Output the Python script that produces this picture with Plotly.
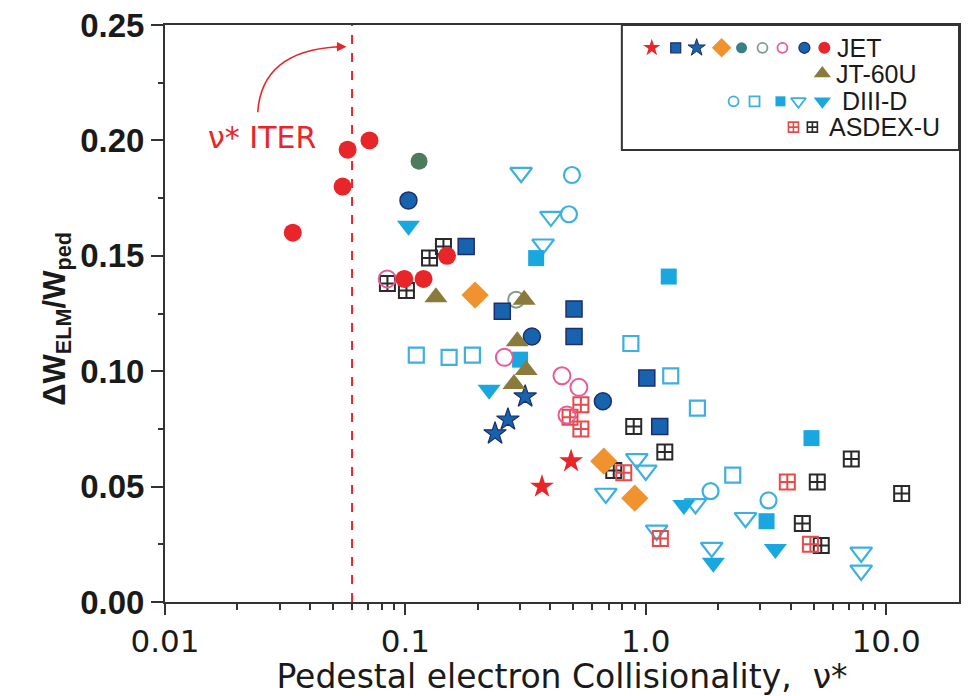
import plotly.graph_objects as go

# ---------------- data ----------------
jet_circle_x = [0.034, 0.0548, 0.0575, 0.0709, 0.099, 0.119, 0.149]
jet_circle_y = [0.160, 0.180, 0.196, 0.200, 0.140, 0.140, 0.150]

jet_redstar_x = [0.370, 0.489]
jet_redstar_y = [0.050, 0.061]

jet_navystar_x = [0.236, 0.267, 0.315]
jet_navystar_y = [0.073, 0.079, 0.089]

jet_navysq_x = [0.179, 0.253, 0.503, 0.503, 1.01, 1.143]
jet_navysq_y = [0.154, 0.126, 0.127, 0.115, 0.097, 0.076]

jet_diamond_x = [0.195, 0.669, 0.900]
jet_diamond_y = [0.133, 0.061, 0.045]

jet_teal_x = [0.114]
jet_teal_y = [0.191]

jet_grayopen_x = [0.289]
jet_grayopen_y = [0.131]

jet_pinkopen_x = [0.084, 0.258, 0.448, 0.527, 0.470]
jet_pinkopen_y = [0.140, 0.106, 0.098, 0.093, 0.081]

jet_navycirc_x = [0.103, 0.336, 0.663]
jet_navycirc_y = [0.174, 0.115, 0.087]

jt60_x = [0.134, 0.312, 0.292, 0.318, 0.283]
jt60_y = [0.132, 0.131, 0.113, 0.1005, 0.0945]

d3_opencirc_x = [0.493, 0.479, 1.86, 3.24]
d3_opencirc_y = [0.185, 0.168, 0.048, 0.044]

d3_opensq_x = [0.111, 0.152, 0.190, 0.867, 1.27, 1.64, 2.30]
d3_opensq_y = [0.107, 0.106, 0.107, 0.112, 0.098, 0.084, 0.055]

d3_fillsq_x = [0.350, 1.246, 0.300, 3.18, 4.89]
d3_fillsq_y = [0.149, 0.141, 0.105, 0.035, 0.071]

d3_opentri_x = [0.303, 0.403, 0.374, 0.918, 1.0, 0.682, 1.61, 1.11, 1.88, 2.60, 7.87, 7.87]
d3_opentri_y = [0.186, 0.167, 0.155, 0.062, 0.057, 0.047, 0.0425, 0.031, 0.0236, 0.0365, 0.0215, 0.0137]

d3_filltri_x = [0.103, 0.223, 1.44, 1.91, 3.46]
d3_filltri_y = [0.163, 0.092, 0.042, 0.017, 0.023]

asdex_black_x = [0.0842, 0.101, 0.126, 0.144, 0.891, 1.20, 0.736, 7.16, 5.17, 11.6, 4.48, 5.37]
asdex_black_y = [0.138, 0.135, 0.149, 0.154, 0.076, 0.065, 0.057, 0.062, 0.052, 0.047, 0.034, 0.0245]

asdex_red_x = [3.88, 4.84, 0.537, 0.484, 0.537, 0.81, 1.15]
asdex_red_y = [0.052, 0.025, 0.0855, 0.080, 0.075, 0.056, 0.0275]

nu_iter = 0.06

x_tickvals = [0.01, 0.1, 1.0, 10.0]
x_ticktext = ["0.01", "0.1", "1.0", "10.0"]
y_tickvals = [0.0, 0.05, 0.10, 0.15, 0.20, 0.25]
y_ticktext = ["0.00", "0.05", "0.10", "0.15", "0.20", "0.25"]

legend_labels = ["JET", "JT-60U", "DIII-D", "ASDEX-U"]

# ---------------- colours ----------------
RED = "#e8262a"
NAVY_F = "#1763ad"
NAVY_E = "#1b2f6e"
ORANGE = "#f0922e"
TEAL = "#4d7b5e"
GRAYG = "#7f9d8c"
PINK = "#e85a98"
OLIVE = "#8a7a3c"
LBLUE = "#1aa7df"
LBLUE_O = "#3eb0e0"
BLACK = "#2a2a2a"
ARED = "#e84a4a"
TXT = "#1a1a1a"
WIDE = "DejaVu Sans, Liberation Sans, Arial"

fig = go.Figure()


def add(x, y, symbol, size, color, line_color=None, lw=1.0):
    fig.add_trace(go.Scatter(
        x=x, y=y, mode="markers", showlegend=False, hoverinfo="skip",
        marker=dict(symbol=symbol, size=size, color=color,
                    line=dict(color=line_color or color, width=lw))))


# DIII-D
add(d3_opensq_x, d3_opensq_y, "square-open", 15, LBLUE_O, lw=2.2)
add(d3_opentri_x, d3_opentri_y, "triangle-down-open", 19, LBLUE_O, lw=2.2)
add(d3_opencirc_x, d3_opencirc_y, "circle-open", 16, LBLUE_O, lw=2.2)
add(d3_fillsq_x, d3_fillsq_y, "square", 16, LBLUE, lw=0)
add(d3_filltri_x, d3_filltri_y, "triangle-down", 20, LBLUE, lw=0)
# ASDEX-U
add(asdex_black_x, asdex_black_y, "square-cross-open", 15, BLACK, lw=2.0)
add(asdex_red_x, asdex_red_y, "square-cross-open", 15, ARED, lw=2.0)
# JET
add(jet_pinkopen_x, jet_pinkopen_y, "circle-open", 17, PINK, lw=2.0)
add(jet_grayopen_x, jet_grayopen_y, "circle-open", 16, GRAYG, lw=2.0)
add(jet_circle_x, jet_circle_y, "circle", 18, RED, lw=0)
add(jet_teal_x, jet_teal_y, "circle", 17, TEAL, lw=0)
add(jet_navycirc_x, jet_navycirc_y, "circle", 17, NAVY_F, NAVY_E, lw=1.5)
add(jet_navysq_x, jet_navysq_y, "square", 16, NAVY_F, NAVY_E, lw=1.5)
add(jet_diamond_x, jet_diamond_y, "diamond", 21, ORANGE, lw=0)
add(jet_navystar_x, jet_navystar_y, "star", 17, NAVY_F, NAVY_E, lw=1.2)
add(jet_redstar_x, jet_redstar_y, "star", 18, RED, lw=0)
# JT-60U
add(jt60_x, jt60_y, "triangle-up", 20, OLIVE, lw=0)

# ITER line
fig.add_trace(go.Scatter(x=[nu_iter, nu_iter], y=[0, 0.25], mode="lines", showlegend=False,
                         hoverinfo="skip", line=dict(color=RED, width=2, dash="dash")))

# ---------------- overlay axis in pixel units for legend / annotation ----------------
L, R, T, B = 165, 961, 20, 602
fig.add_trace(go.Scatter(x=[L], y=[B], xaxis="x2", yaxis="y2", mode="markers",
                         marker=dict(size=1, color="rgba(0,0,0,0)"), showlegend=False, hoverinfo="skip"))

# legend box
fig.add_shape(type="rect", xref="x2", yref="y2", x0=623, x1=R, y0=T, y1=146,
              line=dict(color="#333", width=2), fillcolor="white", layer="below")


def leg(x, y, symbol, size, color, line_color=None, lw=1.0):
    fig.add_trace(go.Scatter(x=[x], y=[y], xaxis="x2", yaxis="y2", mode="markers",
                             showlegend=False, hoverinfo="skip",
                             marker=dict(symbol=symbol, size=size, color=color,
                                         line=dict(color=line_color or color, width=lw))))


r1, r2, r3, r4 = 43, 69, 97, 123
leg(653, r1, "star", 13, RED, lw=0)
leg(677, r1, "square", 10, NAVY_F, NAVY_E, 1.2)
leg(698, r1, "star", 13, NAVY_F, NAVY_E, 1)
leg(723, r1, "diamond", 15, ORANGE, lw=0)
leg(743, r1, "circle", 11, "#3b7f86", lw=0)
leg(764, r1, "circle-open", 10, GRAYG, lw=1.8)
leg(784, r1, "circle-open", 10, PINK, lw=1.8)
leg(806, r1, "circle", 11, NAVY_F, NAVY_E, 1.2)
leg(826, r1, "circle", 12, RED, lw=0)
leg(824, r2, "triangle-up", 15, OLIVE, lw=0)
leg(735, r3, "circle-open", 10, LBLUE_O, lw=1.8)
leg(756, r3, "square-open", 10, LBLUE_O, lw=1.8)
leg(782, r3, "square", 10, LBLUE, lw=0)
leg(800, r3, "triangle-down-open", 13, LBLUE_O, lw=1.8)
leg(824, r3, "triangle-down", 15, LBLUE, lw=0)
leg(795, r4, "square-cross-open", 10, ARED, lw=1.6)
leg(814, r4, "square-cross-open", 10, BLACK, lw=1.6)

for lab, xx, yy in zip(legend_labels, [837, 836, 842, 829], [r1, r2, r3, r4]):
    fig.add_annotation(x=xx, y=yy, xref="x2", yref="y2", text=lab, showarrow=False,
                       xanchor="left", yanchor="middle",
                       font=dict(family="Liberation Sans, Arial", size=25, color=TXT))

# ITER label and curved arrow
fig.add_annotation(x=262, y=133, xref="x2", yref="y2", text="\u03bd* ITER", showarrow=False,
                   xanchor="center", yanchor="middle",
                   font=dict(family=WIDE, size=30, color=RED))
fig.add_shape(type="path", xref="x2", yref="y2", path="M 258,108 Q 262,46 339,42",
              line=dict(color=RED, width=1.6))
fig.add_annotation(x=347, y=42, xref="x2", yref="y2", ax=-12, ay=0, text="", showarrow=True,
                   arrowhead=2, arrowsize=1.2, arrowwidth=1.6, arrowcolor=RED)

# y axis title (paper coords, left of the tick labels)
fig.add_annotation(x=(57 - L) / (R - L), y=(B - 316) / (B - T), xref="paper", yref="paper",
                   textangle=-90, showarrow=False, xanchor="center", yanchor="middle",
                   text="\u0394W<sub>ELM</sub>/W<sub>ped</sub>",
                   font=dict(family="Liberation Sans, Arial", size=31, color=TXT, weight="bold"))

fig.update_layout(
    width=968, height=696, margin=dict(l=L, r=968 - R, t=T, b=696 - B),
    paper_bgcolor="white", plot_bgcolor="white",
    xaxis=dict(type="log", range=[-2, 1.303], tickvals=x_tickvals, ticktext=x_ticktext,
               ticks="outside", ticklen=11, tickwidth=2, tickcolor="#333",
               showline=True, linecolor="#333", linewidth=2, mirror=True,
               showgrid=False, zeroline=False,
               tickfont=dict(family=WIDE, size=31, color=TXT),
               minor=dict(ticks="outside", ticklen=6, tickwidth=2, tickcolor="#333",
                          tickvals=[0.02, 0.03, 0.04, 0.05, 0.06, 0.07, 0.08, 0.09,
                                    0.2, 0.3, 0.4, 0.5, 0.6, 0.7, 0.8, 0.9,
                                    2, 3, 4, 5, 6, 7, 8, 9], showgrid=False),
               title=dict(text="Pedestal electron Collisionality,  \u03bd*", standoff=6,
                          font=dict(family=WIDE, size=33, color=TXT))),
    yaxis=dict(range=[0, 0.25], tickvals=y_tickvals, ticktext=y_ticktext,
               ticks="outside", ticklen=12, tickwidth=2, tickcolor="#333",
               showline=True, linecolor="#333", linewidth=2, mirror=True,
               showgrid=False, zeroline=False,
               tickfont=dict(family="Liberation Sans, Arial", size=33, color=TXT, weight="bold"),
               minor=dict(ticks="outside", ticklen=5, tickwidth=2, tickcolor="#333",
                          dtick=0.025, showgrid=False)),
    xaxis2=dict(overlaying="x", range=[L, R], visible=False, fixedrange=True),
    yaxis2=dict(overlaying="y", range=[B, T], visible=False, fixedrange=True),
    showlegend=False,
)

fig.write_html("out.html")
